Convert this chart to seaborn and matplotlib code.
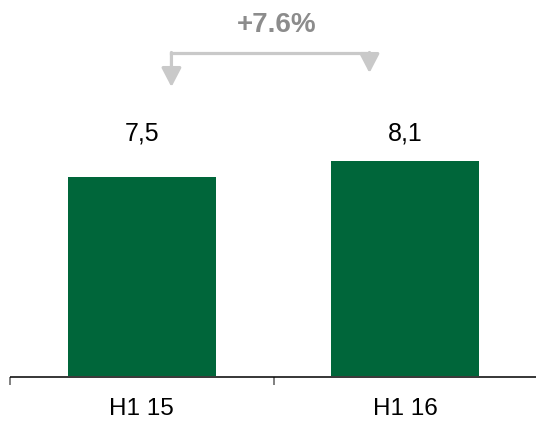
import matplotlib
matplotlib.use("Agg")
import matplotlib.pyplot as plt
from matplotlib.patches import FancyArrowPatch
from matplotlib.ticker import FixedLocator, NullLocator
import seaborn as sns
import pandas as pd

categories = ["H1 15", "H1 16"]
values = [7.5, 8.1]
value_labels = ["7,5", "8,1"]
change_label = "+7.6%"

sns.set_style("white")
plt.rcParams['font.family'] = ['Liberation Sans', 'DejaVu Sans']

W, H, DPI = 536, 422, 100
fig = plt.figure(figsize=(W / DPI, H / DPI), dpi=DPI)

# axes geometry in pixels
ax_left_px, ax_right_px = 10, 536
ax_bottom_px, ax_top_px = 377, 0  # from top
ax = fig.add_axes([ax_left_px / W, (H - ax_bottom_px) / H,
                   (ax_right_px - ax_left_px) / W, (ax_bottom_px - ax_top_px) / H])

cat_px = 263.5
px_per_unit = 26.5
base_px = 376.0

df = pd.DataFrame({"cat": categories, "val": values})
sns.barplot(data=df, x="cat", y="val", color="#00663A", width=0.563,
            saturation=1, ax=ax, edgecolor="none")
ax.set_xlim(-0.5, -0.5 + (ax_right_px - ax_left_px) / cat_px)
ax.set_ylim(-(ax_bottom_px - base_px) / px_per_unit, (base_px - ax_top_px) / px_per_unit)

def dx(px):
    return (px - 141.8) / cat_px

def dy(py):
    return (base_px - py) / px_per_unit

# spines
for s in ["top", "right", "left"]:
    ax.spines[s].set_visible(False)
ax.spines["bottom"].set_color("black")
ax.spines["bottom"].set_linewidth(1.1)
ax.spines["bottom"].set_capstyle("butt")
ax.yaxis.set_major_locator(NullLocator())
ax.yaxis.set_minor_locator(NullLocator())
ax.set_xlabel("")
ax.set_ylabel("")

ax.xaxis.set_major_locator(FixedLocator(range(len(categories))))
ax.set_xticklabels(categories, fontsize=17.5)
ax.xaxis.set_minor_locator(NullLocator())
ax.tick_params(axis="x", which="major", bottom=True, top=False, length=0, pad=15, colors="black")

# category boundary tick marks (left edge and between categories)
bounds = [i - 0.5 for i in range(len(categories))]
ax.vlines(bounds, -8 / 377, 0, transform=ax.get_xaxis_transform(),
          colors="#808080", lw=1.4, clip_on=False)

# value labels
for i, lab in enumerate(value_labels):
    ax.text(i, dy(134), lab, ha="center", va="center", fontsize=18, color="black")

# bracket with arrows
gray = "#C9C9C9"
xl, xr = dx(171.5), dx(369.5)
yh = dy(52.5)
ax.plot([xl, xr], [yh, yh], color=gray, lw=2.3, solid_capstyle="projecting", clip_on=False)
for x, tip in [(xl, 87), (xr, 73)]:
    arr = FancyArrowPatch((x, yh), (x, dy(tip)),
                          arrowstyle="-|>,head_length=11.5,head_width=6",
                          mutation_scale=1, color=gray, lw=2.3,
                          shrinkA=0, shrinkB=0, clip_on=False)
    ax.add_patch(arr)

ax.text(dx(277), dy(25), change_label, ha="center", va="center",
        fontsize=20, fontweight="bold", color="#8C8C8C")

fig.savefig("out.png", dpi=DPI)
